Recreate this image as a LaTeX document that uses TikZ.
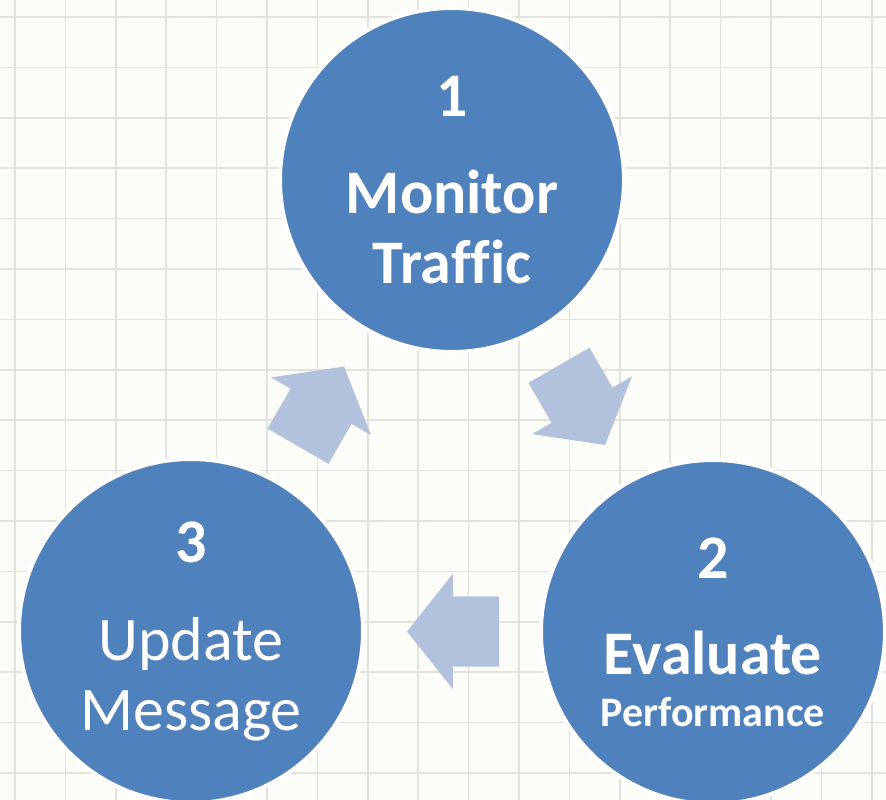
\documentclass[tikz,border=0pt]{standalone}
\usepackage{fontspec}
\setmainfont{Carlito}[Ligatures=CommonOff]
\usetikzlibrary{positioning,calc}
\usetikzlibrary{shapes.arrows}

\definecolor{stageblue}{HTML}{4F81BD}
\definecolor{flowblue}{HTML}{B2C2DD}
\definecolor{paper}{HTML}{FCFCF8}
\definecolor{gridgray}{HTML}{E3E3DE}

\begin{document}
\begin{tikzpicture}[x=1pt, y=-1pt,
    stage/.style={circle, fill=stageblue, draw=white, line width=4pt, minimum size=344pt, inner sep=0pt,
      text=white, align=center, font=\fontsize{62}{70}\selectfont},
    flow/.style={single arrow, fill=flowblue, minimum height=92pt, inner xsep=0pt, inner ysep=35pt,
      single arrow head extend=22.5pt, single arrow tip angle=103, rotate=#1, xshift=-15pt},
    gridline/.style={gridgray, line width=1.5pt}]
  \useasboundingbox (0,0) rectangle (886,800);
  \clip (0,0) rectangle (886,800);
  \fill[paper] (0,0) rectangle (886,800);
  % squared paper
  \foreach \i in {0,...,17} {
    \draw[gridline] ({15+50.4*\i},0) -- ({15+50.4*\i},800);
    \draw[gridline] (0,{17+50.4*\i}) -- (886,{17+50.4*\i});
  }

  \node (monitor) [stage] at (452,180) {\textbf{1}\\[27pt] \textbf{Monitor}\\ \textbf{Traffic}};
  \node (evaluate) [stage] at (713,632) {\textbf{2}\\[26pt] \textbf{Evaluate}\\[-18pt] \fontsize{42}{70}\selectfont\textbf{Performance}};
  \node (update) [stage] at (191,631) {\textbf{3}\\[28pt] Update\\ Message};

  % cycle arrows
  \node (mon2eval) [flow=-60] at ($(monitor)!0.5!(evaluate)$) {};
  \node (eval2upd) [flow=180] at ($(evaluate)!0.5!(update)$) {};
  \node (upd2mon) [flow=60] at ($(update)!0.5!(monitor)$) {};
\end{tikzpicture}
\end{document}
